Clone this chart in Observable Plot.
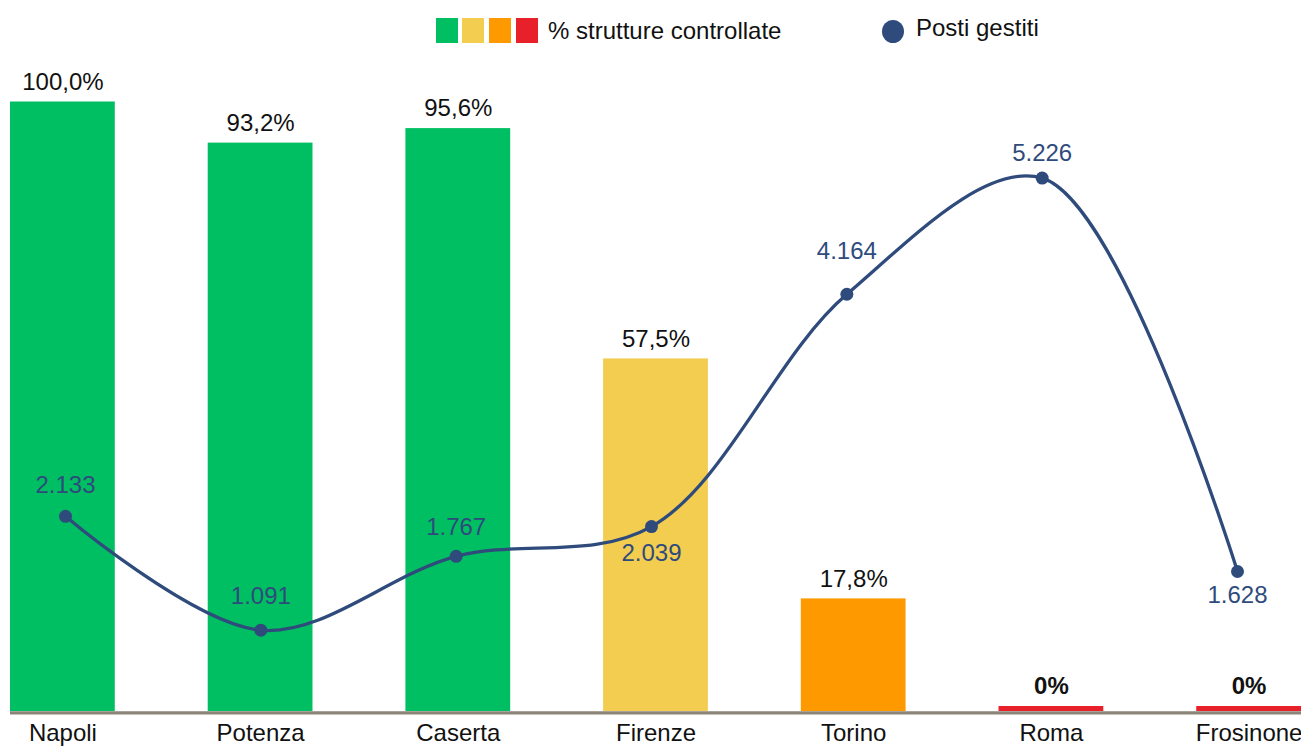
<!DOCTYPE html>
<html>
<head>
<meta charset="utf-8">
<script src="https://cdn.jsdelivr.net/npm/d3@7"></script>
<script src="https://cdn.jsdelivr.net/npm/@observablehq/plot@0.6"></script>
<style>
  body { margin: 0; background: #fff; font-family: "Liberation Sans", Arial, sans-serif; }
  #legend { position: relative; width: 1301px; height: 50px; }
  #legend .sw { position: absolute; top: 18px; width: 22px; height: 25px; }
  #legend .lbl { position: absolute; font-size: 24px; color: #111; line-height: 24px; white-space: nowrap; }
  #legend .dot { position: absolute; left: 882px; top: 20px; width: 22px; height: 23px; border-radius: 50%; background: #2f4b7c; }
  #chart { position: relative; width: 1301px; height: 701px; }
  #chart svg { position: absolute; left: 0; top: 0; }
</style>
</head>
<body>
<div id="legend"></div>
<div id="chart"></div>
<script>
// ---- data ----
const cities = ["Napoli", "Potenza", "Caserta", "Firenze", "Torino", "Roma", "Frosinone"];
const pctControlled = [100.0, 93.2, 95.6, 57.5, 17.8, 0, 0];
const controlClass = ["alta", "alta", "alta", "media", "bassa", "nulla", "nulla"];
const postiGestiti = [2133, 1091, 1767, 2039, 4164, 5226, 1628];
const classNames = ["alta", "media", "bassa", "nulla"];
const classColors = ["#00bf63", "#f2cd50", "#ff9900", "#e8202a"];
const legendBarsLabel = "% strutture controllate";
const legendLineLabel = "Posti gestiti";

// ---- formatting (Italian) ----
const it = d3.formatLocale({decimal: ",", thousands: ".", grouping: [3], currency: ["€", ""]});
const fmtPct = v => v === 0 ? "0%" : it.format(".1f")(v) + "%";
const fmtInt = it.format(",d");

const rows = cities.map((c, i) => ({
  city: c, pct: pctControlled[i], cls: controlClass[i], posti: postiGestiti[i]
}));

// ---- legend ----
const legend = document.getElementById("legend");
const swX = [436, 462, 489, 516];
classColors.forEach((col, i) => {
  const s = document.createElement("div");
  s.className = "sw"; s.style.left = swX[i] + "px"; s.style.background = col;
  legend.appendChild(s);
});
const l1 = document.createElement("div");
l1.className = "lbl"; l1.style.left = "548px"; l1.style.top = "19px"; l1.textContent = legendBarsLabel;
legend.appendChild(l1);
const d = document.createElement("div"); d.className = "dot"; legend.appendChild(d);
const l2 = document.createElement("div");
l2.className = "lbl"; l2.style.left = "916px"; l2.style.top = "16px"; l2.textContent = legendLineLabel;
legend.appendChild(l2);

const FONT = "font-family: 'Liberation Sans', Arial, sans-serif; background: transparent; overflow: visible;";
const BLUE = "#2f4b7c";

// ---- bars ----
const bars = Plot.plot({
  width: 1301, height: 701,
  marginLeft: 10, marginRight: 0, marginTop: 51.5, marginBottom: 45,
  style: FONT,
  x: {type: "band", domain: cities, paddingInner: 0.47, paddingOuter: 0, align: 0.5, round: false},
  y: {domain: [0, 100], axis: null},
  color: {domain: classNames, range: classColors},
  marks: [
    Plot.ruleY([0], {stroke: "#8c8379", strokeWidth: 3.3, dy: 6.3}),
    Plot.barY(rows, {x: "city", y: "pct", fill: "cls", insetBottom: -5}),
    Plot.text(rows.filter(r => r.pct > 0), {x: "city", y: "pct", text: r => fmtPct(r.pct), dy: -20, fontSize: 24, fill: "#111"}),
    Plot.text(rows.filter(r => r.pct === 0), {x: "city", y: "pct", text: r => fmtPct(r.pct), dy: -20, fontSize: 24, fontWeight: "bold", fill: "#111"}),
    Plot.axisX({tickSize: 0, tickPadding: 17, fontSize: 24, fill: "#111", label: null})
  ]
});

// ---- line (secondary scale) ----
const labelDy = {Napoli: -31, Potenza: -34, Caserta: -29, Firenze: 27, Torino: -43, Roma: -25, Frosinone: 24};
const line = Plot.plot({
  width: 1301, height: 701,
  marginLeft: 65, marginRight: 64, marginTop: 43, marginBottom: 2,
  style: FONT,
  x: {type: "point", domain: cities, padding: 0, axis: null, round: false},
  y: {domain: [0, 6000], axis: null},
  marks: [
    Plot.line(rows, {x: "city", y: "posti", curve: "catmull-rom", stroke: BLUE, strokeWidth: 3.3}),
    Plot.dot(rows, {x: "city", y: "posti", r: 6.5, fill: BLUE}),
    ...cities.map(c => Plot.text(rows.filter(r => r.city === c), {
      x: "city", y: "posti", text: r => fmtInt(r.posti), dy: labelDy[c], fontSize: 24, fill: BLUE
    }))
  ]
});

const chart = document.getElementById("chart");
chart.appendChild(bars);
chart.appendChild(line);
</script>
</body>
</html>
